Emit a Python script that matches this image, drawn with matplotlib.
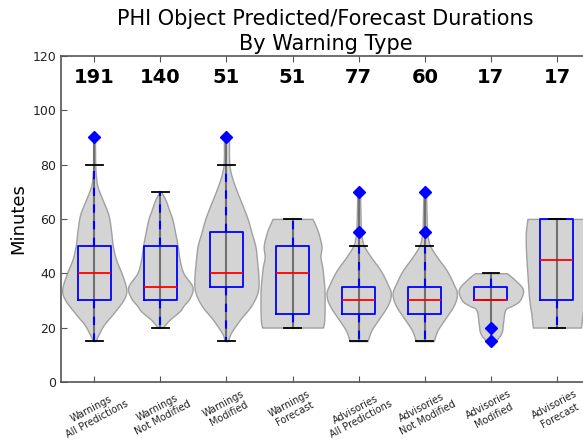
import numpy as np
import matplotlib
matplotlib.use("Agg")
import matplotlib.pyplot as plt

categories = [
    "Warnings\nAll Predictions", "Warnings\nNot Modified", "Warnings\nModified",
    "Warnings\nForecast", "Advisories\nAll Predictions", "Advisories\nNot Modified",
    "Advisories\nModified", "Advisories\nForecast",
]
counts = [191, 140, 51, 51, 77, 60, 17, 17]

# box statistics (minutes)
whisker_lo = [15, 20, 15, 20, 15, 15, 30, 20]
q1 = [30, 30, 35, 25, 25, 25, 30, 30]
medians = [40, 35, 40, 40, 30, 30, 30, 45]
q3 = [50, 50, 55, 50, 35, 35, 35, 60]
whisker_hi = [80, 70, 80, 60, 50, 50, 40, 60]
outliers = [[90], [], [90], [], [55, 70], [55, 70], [20, 15], []]

# density outlines: minute levels and relative half-widths
density_levels = [
    [15, 18, 21, 25, 30, 34, 40, 45, 50, 55, 60, 63, 67, 72, 76, 80, 85, 90],
    [20, 21, 23, 26, 28, 31, 35, 40, 45, 50, 55, 60, 63, 67, 70],
    [15, 18, 23, 28, 33, 38, 45, 50, 55, 60, 65, 70, 75, 79, 83, 86, 90],
    [20, 23, 30, 35, 42, 46, 50, 55, 58, 60],
    [15, 19, 24, 27, 30, 33, 36, 39, 42, 46, 50, 53, 56, 60, 65, 70],
    [15, 19, 24, 27, 30, 33, 36, 39, 42, 46, 50, 53, 56, 60, 65, 70],
    [15, 18, 21.7, 26.5, 28, 30, 34, 37.5, 40],
    [20, 25, 30, 36, 45, 50, 55, 60],
]
density_widths = [
    [0.03, 0.16, 0.3, 0.58, 0.9, 1.0, 0.85, 0.68, 0.58, 0.53, 0.47, 0.4, 0.26, 0.1, 0.05, 0.03, 0.025, 0.02],
    [0.08, 0.15, 0.3, 0.6, 0.72, 0.92, 1.0, 0.72, 0.6, 0.54, 0.46, 0.37, 0.28, 0.16, 0.02],
    [0.05, 0.14, 0.43, 0.77, 0.97, 1.0, 0.95, 0.9, 0.78, 0.66, 0.5, 0.33, 0.18, 0.1, 0.08, 0.08, 0.08],
    [0.95, 0.99, 1.0, 0.99, 0.93, 0.87, 0.9, 0.8, 0.7, 0.62],
    [0.28, 0.4, 0.68, 0.85, 0.97, 1.0, 0.9, 0.78, 0.63, 0.38, 0.17, 0.1, 0.07, 0.06, 0.05, 0.04],
    [0.28, 0.4, 0.68, 0.85, 0.97, 1.0, 0.9, 0.78, 0.63, 0.38, 0.17, 0.1, 0.07, 0.06, 0.05, 0.04],
    [0.15, 0.33, 0.38, 0.45, 0.66, 0.9, 1.0, 0.75, 0.5],
    [0.75, 0.8, 0.86, 0.9, 0.95, 0.97, 0.97, 0.92],
]

title = "PHI Object Predicted/Forecast Durations\nBy Warning Type"
ylabel = "Minutes"


def catmull_rom(xs, ys, n=16):
    pts = np.column_stack([xs, ys]).astype(float)
    p = np.vstack([pts[0], pts, pts[-1]])
    segs = []
    t = np.linspace(0, 1, n, endpoint=False)[:, None]
    for i in range(1, len(p) - 2):
        p0, p1, p2, p3 = p[i - 1], p[i], p[i + 1], p[i + 2]
        segs.append(0.5 * (2 * p1 + (-p0 + p2) * t
                           + (2 * p0 - 5 * p1 + 4 * p2 - p3) * t ** 2
                           + (-p0 + 3 * p1 - 3 * p2 + p3) * t ** 3))
    segs.append(p[-2][None])
    out = np.vstack(segs)
    return out[:, 0], np.clip(out[:, 1], 0, None)


fig = plt.figure(figsize=(5.83, 4.44), dpi=100)
ax_rect = [0.105, 0.14, 0.907, 0.734]
ax = fig.add_axes(ax_rect)

positions = np.arange(1, len(categories) + 1)
half = 0.485

for pos, lv, wd in zip(positions, density_levels, density_widths):
    yy, ww = catmull_rom(lv, wd)
    ax.fill_betweenx(yy, pos - ww * half, pos + ww * half,
                     facecolor="#d4d4d4", edgecolor="#a0a0a0", linewidth=1.0, zorder=1)
    ax.plot([pos, pos], [min(lv), max(lv)], color="#707070", linewidth=1.5, zorder=2)

stats = []
for i in range(len(categories)):
    stats.append(dict(med=medians[i], q1=q1[i], q3=q3[i],
                      whislo=whisker_lo[i], whishi=whisker_hi[i],
                      fliers=outliers[i], label=categories[i]))

ax.bxp(stats, positions=positions, widths=0.5, showfliers=True,
       boxprops=dict(color="blue", linewidth=1.3),
       whiskerprops=dict(color="blue", linestyle=(0, (4, 4)), linewidth=1.5),
       capprops=dict(color="black", linewidth=1.3),
       medianprops=dict(color="red", linewidth=1.3),
       flierprops=dict(marker="D", markerfacecolor="blue", markeredgecolor="blue",
                       markersize=6.5, linestyle="none"),
       manage_ticks=False, zorder=3)

for pos, n in zip(positions, counts):
    ax.text(pos, 112, str(n), ha="center", va="center", fontsize=14,
            fontweight="bold", color="black")

ax.set_xlim(0.5, len(categories) + 0.5)
ax.set_ylim(0, 120)
ax.set_yticks(np.arange(0, 121, 20))
ax.set_xticks(positions)
ax.set_xticklabels(categories, rotation=28, ha="center", fontsize=7)
ax.tick_params(axis="both", direction="in", top=True, right=True, length=4,
               color="#555555", labelsize=9, labelcolor="#222222")
ax.tick_params(axis="x", labelsize=7, pad=5)
for sp in ax.spines.values():
    sp.set_color("#555555")
    sp.set_linewidth(1.2)

ax.set_ylabel(ylabel, fontsize=13, labelpad=4)
fig.text(ax_rect[0] + ax_rect[2] / 2, 0.98, title, ha="center", va="top",
         fontsize=15, linespacing=1.3)

fig.savefig("out.png", dpi=100)
